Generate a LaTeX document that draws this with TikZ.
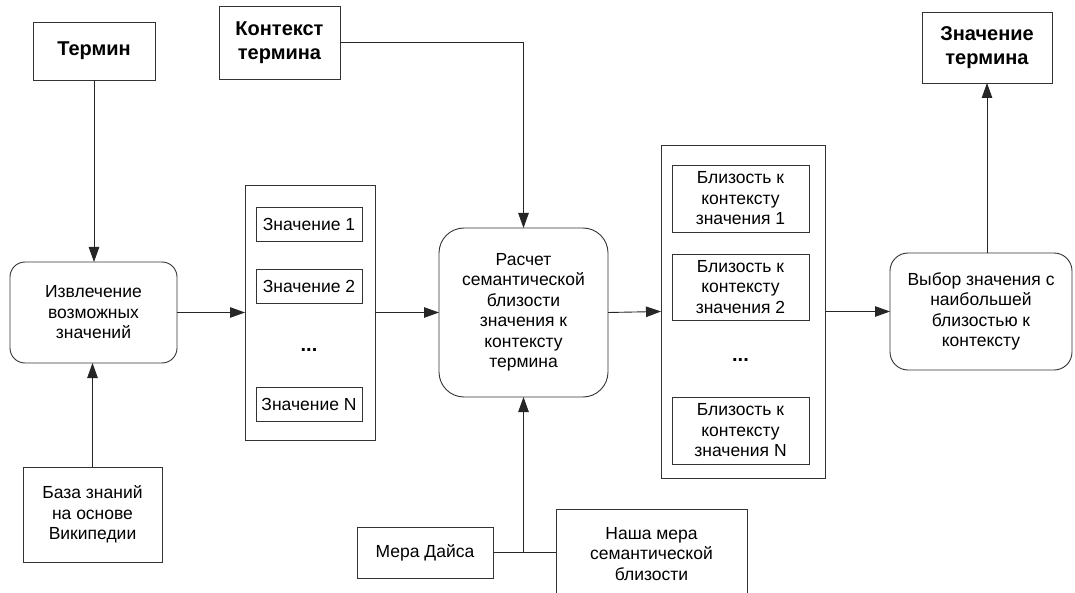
\documentclass[tikz,border=0pt]{standalone}
\usepackage{fontspec}
\setmainfont{Liberation Sans}
\usetikzlibrary{arrows.meta}
\begin{document}
\begin{tikzpicture}[x=1pt,y=-1pt,
  every node/.style={font=\fontsize{17.5}{20.5}\selectfont, align=center, inner sep=0pt, outer sep=0pt},
  box/.style={draw=black!80, line width=0.9pt, rectangle},
  rbox/.style={box, rounded corners=#1},
  hdr/.style={box, font=\fontsize{20}{24.5}\selectfont\bfseries},
  conn/.style={draw=black!85, line width=0.9pt},
  arr/.style={conn, -{Triangle[length=15pt,width=10.5pt]}}
]
\useasboundingbox (0,0) rectangle (1075,593);
\fill[white] (0,0) rectangle (1075,593);

% header boxes
\node[hdr, minimum width=122pt, minimum height=58pt] (term) at (94,51) {Термин};
\node[hdr, minimum width=121pt, minimum height=73pt] (ctx) at (279.5,42.5) {Контекст\\термина};
\node[hdr, minimum width=130pt, minimum height=71pt] (res) at (987,47.5) {Значение\\термина};

% extraction
\node[rbox=15pt, minimum width=167pt, minimum height=101pt] (extr) at (93.5,312.5) {Извлечение\\возможных\\значений};

% values container
\node[box, minimum width=130pt, minimum height=255pt] (vals) at (310,312.5) {};
\node[box, minimum width=106pt, minimum height=34pt] (v1) at (309,224) {Значение 1};
\node[box, minimum width=106pt, minimum height=34pt] (v2) at (309,286) {Значение 2};
\node[font=\fontsize{20}{24}\selectfont\bfseries] (vdots) at (309,350) {...};
\node[box, minimum width=106pt, minimum height=34pt] (vN) at (309,404) {Значение N};

% calculation
\node[rbox=25pt, minimum width=169pt, minimum height=169pt] (calc) at (523.5,312.5) {Расчет\\семантической\\близости\\значения к\\контексту\\термина};

% proximity container
\node[box, minimum width=164pt, minimum height=333pt] (prox) at (743,311.5) {};
\node[box, minimum width=137pt, minimum height=67pt] (p1) at (740.5,198.5) {Близость к\\контексту\\значения 1};
\node[box, minimum width=137pt, minimum height=66pt] (p2) at (740.5,287) {Близость к\\контексту\\значения 2};
\node[font=\fontsize{20}{24}\selectfont\bfseries] (pdots) at (740.5,360) {...};
\node[box, minimum width=137pt, minimum height=67pt] (pN) at (740.5,430.5) {Близость к\\контексту\\значения N};

% selection
\node[rbox=18pt, minimum width=182pt, minimum height=117pt] (sel) at (981,311.5) {Выбор значения с\\наибольшей\\близостью к\\контексту};

% bottom boxes
\node[box, minimum width=139pt, minimum height=95pt] (base) at (92.5,514.5) {База знаний\\на основе\\Википедии};
\node[box, minimum width=136pt, minimum height=51pt] (dice) at (425,552.5) {Мера Дайса};
\node[box, minimum width=191pt, minimum height=90pt] (ours) at (651.5,554) {Наша мера\\семантической\\близости};

% connectors
\draw[arr] (term.south) -- (term.south |- extr.north);
\draw[arr] (base.north) -- (base.north |- extr.south);
\draw[arr] (extr.east) -- (vals.west);
\draw[arr] (vals.east) -- (calc.west);
\draw[arr] (ctx.east) -| (calc.north);
\draw[arr] (calc.east) -- (prox.west);
\draw[arr] (prox.east) -- (sel.west);
\draw[arr] (sel.north -| res.south) -- (res.south);
\draw[conn] (dice.east) -- (ours.west |- dice.east);
\coordinate (jn) at (calc.south |- dice.east);
\draw[arr] (jn) -- (calc.south);
\end{tikzpicture}
\end{document}
